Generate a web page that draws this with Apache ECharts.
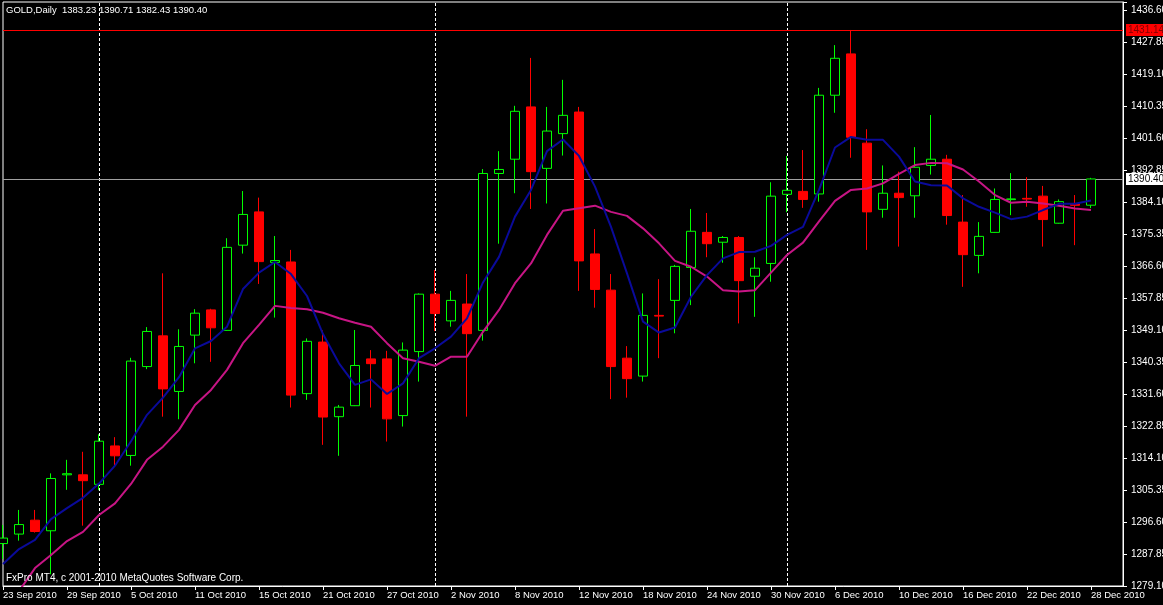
<!DOCTYPE html>
<html><head><meta charset="utf-8">
<script src="https://cdn.jsdelivr.net/npm/echarts@6/dist/echarts.min.js"></script>
<style>html,body{margin:0;padding:0;background:#000;}#c{width:1163px;height:605px;}</style>
</head><body><div id="c"></div>
<script>
const dates = ['23 Sep 2010','24 Sep 2010','27 Sep 2010','28 Sep 2010','29 Sep 2010','30 Sep 2010',
'1 Oct 2010','4 Oct 2010','5 Oct 2010','6 Oct 2010','7 Oct 2010','8 Oct 2010','11 Oct 2010','12 Oct 2010',
'13 Oct 2010','14 Oct 2010','15 Oct 2010','18 Oct 2010','19 Oct 2010','20 Oct 2010','21 Oct 2010','22 Oct 2010',
'25 Oct 2010','26 Oct 2010','27 Oct 2010','28 Oct 2010','29 Oct 2010',
'1 Nov 2010','2 Nov 2010','3 Nov 2010','4 Nov 2010','5 Nov 2010','8 Nov 2010','9 Nov 2010','10 Nov 2010',
'11 Nov 2010','12 Nov 2010','15 Nov 2010','16 Nov 2010','17 Nov 2010','18 Nov 2010','19 Nov 2010',
'22 Nov 2010','23 Nov 2010','24 Nov 2010','25 Nov 2010','26 Nov 2010','29 Nov 2010','30 Nov 2010',
'1 Dec 2010','2 Dec 2010','3 Dec 2010','6 Dec 2010','7 Dec 2010','8 Dec 2010','9 Dec 2010','10 Dec 2010',
'13 Dec 2010','14 Dec 2010','15 Dec 2010','16 Dec 2010','17 Dec 2010','20 Dec 2010','21 Dec 2010',
'22 Dec 2010','23 Dec 2010','24 Dec 2010','27 Dec 2010','28 Dec 2010'];
const shiftSlots = ['', ''];

const openP = [1290.7,1293.3,1297.1,1294.2,1309.5,1309.5,1306.9,1317.4,1314.8,1339.1,
 1347.5,1332.3,1347.7,1354.6,1349.0,1372.3,1381.4,1367.6,1367.7,1331.7,
 1345.8,1325.4,1328.4,1341.2,1341.2,1325.7,1343.2,1358.9,1351.6,1356.2,
 1349.0,1391.9,1395.8,1410.1,1393.3,1402.8,1408.7,1369.9,1360.0,1341.4,
 1336.5,1353.1,1357.2,1366.2,1375.8,1373.1,1374.4,1363.8,1367.3,1386.2,
 1387.0,1386.3,1413.3,1424.6,1400.2,1382.1,1386.5,1385.8,1394.1,1395.8,
 1378.6,1369.5,1375.8,1384.75,1385.1,1385.7,1378.3,1383.6,1383.23];
const highP = [1295.8,1299.9,1299.9,1309.9,1313.6,1315.8,1320.6,1319.8,1341.5,1349.9,
 1364.6,1349.3,1354.8,1354.9,1374.2,1387.1,1385.3,1374.8,1371.0,1346.8,
 1349.0,1328.6,1349.1,1343.6,1343.4,1345.7,1359.1,1365.5,1359.8,1364.4,
 1393.1,1398.0,1410.4,1423.5,1410.1,1417.5,1410.1,1376.7,1364.4,1344.7,
 1359.1,1363.0,1366.9,1382.2,1381.1,1374.8,1374.8,1369.0,1389.5,1396.7,
 1398.3,1415.3,1427.0,1431.14,1404.0,1394.1,1392.4,1399.1,1407.9,1397.0,
 1386.0,1378.6,1387.8,1392.0,1390.9,1388.5,1384.8,1386.0,1390.71];
const lowP = [1286.5,1291.5,1293.7,1282.3,1305.4,1295.6,1305.3,1312.0,1312.0,1338.4,
 1325.4,1324.7,1340.0,1340.4,1348.9,1370.0,1361.7,1352.5,1327.9,1330.0,
 1317.7,1314.7,1328.3,1327.9,1318.6,1322.7,1335.0,1348.8,1350.0,1325.4,
 1346.2,1372.7,1386.5,1382.2,1383.7,1396.8,1359.8,1355.2,1330.2,1330.6,
 1335.0,1341.4,1348.2,1355.9,1369.0,1367.5,1350.9,1352.7,1362.3,1381.3,
 1382.5,1384.2,1408.5,1396.2,1371.0,1379.8,1371.9,1379.8,1391.6,1377.9,
 1360.9,1364.6,1375.7,1380.5,1382.8,1371.9,1378.2,1372.3,1382.43];
const closeP = [1292.2,1295.9,1294.0,1308.5,1309.8,1307.9,1318.7,1314.7,1340.6,1348.7,
 1333.0,1344.6,1353.7,1349.7,1371.7,1380.7,1367.8,1368.1,1331.3,1346.0,
 1325.3,1328.0,1339.4,1339.9,1324.8,1343.6,1358.9,1353.6,1357.2,1348.1,
 1391.9,1393.0,1408.9,1392.4,1403.5,1407.8,1368.0,1360.2,1339.1,1335.8,
 1353.1,1352.9,1366.5,1376.1,1372.7,1374.4,1362.6,1366.0,1385.7,1387.3,
 1384.8,1413.3,1423.4,1401.8,1381.4,1386.5,1385.3,1393.6,1395.8,1380.4,
 1369.7,1374.7,1384.8,1384.95,1384.9,1379.3,1384.2,1383.2,1390.40];

const maFast = [1285.1,1289.2,1291.7,1297.4,1300.4,1303.2,1307.1,1312.0,1318.7,1325.9,
 1330.6,1336.2,1344.1,1346.1,1350.0,1360.3,1364.8,1367.7,1364.4,1358.4,
 1348.0,1340.0,1334.1,1335.6,1331.6,1334.5,1341.4,1344.1,1347.3,1352.3,
 1362.1,1369.1,1380.1,1387.4,1398.0,1401.2,1396.7,1388.3,1377.3,1364.6,
 1351.4,1348.4,1349.8,1358.2,1364.1,1368.7,1370.4,1370.5,1372.1,1375.1,
 1377.3,1387.4,1399.0,1401.9,1401.1,1401.1,1396.5,1389.7,1388.7,1388.6,
 1385.1,1382.8,1381.2,1379.4,1380.1,1381.9,1383.6,1383.6,1384.5];
const maSlow = [1272.0,1277.7,1284.0,1287.6,1291.4,1293.9,1298.5,1301.7,1307.0,1313.6,
 1317.2,1321.8,1328.6,1332.7,1338.2,1345.5,1350.5,1355.7,1355.1,1354.8,
 1353.8,1352.3,1351.1,1350.0,1345.5,1341.4,1340.4,1339.3,1341.8,1341.8,
 1348.6,1354.6,1361.9,1367.3,1375.1,1381.7,1382.4,1383.1,1381.4,1380.3,
 1376.9,1372.8,1368.0,1366.4,1363.7,1360.0,1359.6,1360.0,1364.8,1369.6,
 1373.0,1378.8,1384.4,1387.4,1387.8,1389.2,1391.8,1394.2,1394.8,1394.7,
 1393.0,1389.7,1386.0,1383.9,1384.2,1383.7,1383.1,1382.3,1381.9];

const yTickMin = 1279.10;
const yTickStep = 8.75;
const yMax = 1438.79;
const monthSeparators = ['1 Oct 2010','1 Nov 2010','1 Dec 2010'];
const highLine = 1431.14;
const bidLine = 1390.40;
const symbolName = 'GOLD,Daily';
const footer = 'FxPro MT4, c 2001-2010 MetaQuotes Software Corp.';

const n = dates.length - 1;
const headerText = symbolName + '  ' + [openP[n], highP[n], lowP[n], closeP[n]].map(v => v.toFixed(2)).join(' ');
const candles = dates.map((d, i) => [openP[i], closeP[i], lowP[i], highP[i]]);
const font = 'Liberation Sans';

const chart = echarts.init(document.getElementById('c'), null, {renderer: 'canvas'});
chart.setOption({
  animation: false,
  backgroundColor: '#000',
  title: [
    {text: headerText, left: 6, top: 5, padding: 0, textStyle: {color: '#fff', fontSize: 9.5, fontWeight: 'normal', fontFamily: font}},
    {text: footer, left: 6, top: 573, padding: 0, textStyle: {color: '#fff', fontSize: 10, fontWeight: 'normal', fontFamily: font}}
  ],
  grid: {left: 3, right: 40, top: 2, bottom: 19, outerBoundsMode: 'none', containLabel: false,
         show: true, borderColor: '#fff', borderWidth: 1, backgroundColor: '#000'},
  xAxis: {
    type: 'category', data: dates.concat(shiftSlots), boundaryGap: false,
    axisLine: {lineStyle: {color: '#fff', width: 1}},
    axisTick: {show: true, interval: 3, length: 4, lineStyle: {color: '#fff'}},
    axisLabel: {interval: 3, align: 'left', margin: 4, color: '#fff', fontSize: 9.5, fontFamily: font},
    splitLine: {show: false}
  },
  yAxis: {
    type: 'value', position: 'right', min: yTickMin, max: yMax, interval: yTickStep, scale: true,
    axisLine: {show: true, lineStyle: {color: '#fff', width: 1}},
    axisTick: {show: true, length: 4, lineStyle: {color: '#fff'}},
    axisLabel: {
      margin: 8, color: '#fff', fontSize: 10, fontFamily: font,
      formatter: v => {
        const k = (v - yTickMin) / yTickStep;
        return Math.abs(k - Math.round(k)) < 0.01 ? v.toFixed(2) : '';
      }
    },
    splitLine: {show: false}
  },
  series: [
    {
      type: 'candlestick', data: candles, barWidth: 10, z: 2,
      itemStyle: {color: '#000', color0: '#ff0000', borderColor: '#00ff00', borderColor0: '#ff0000', borderWidth: 1},
      markLine: {
        z: 1, silent: true, symbol: ['none', 'none'], animation: false,
        data: [
          ...monthSeparators.map(d => ({xAxis: d, lineStyle: {color: '#fff', type: [3, 2], width: 1}, label: {show: false}})),
          {yAxis: highLine, lineStyle: {color: '#ff0000', type: 'solid', width: 1},
           label: {show: true, position: 'end', distance: 3, formatter: highLine.toFixed(2), backgroundColor: '#ff0000', color: '#800000', fontSize: 10, fontFamily: font, padding: [1, 3, 1, 2]}},
          {yAxis: bidLine, lineStyle: {color: '#a0a0a0', type: 'solid', width: 1},
           label: {show: true, position: 'end', distance: 3, formatter: bidLine.toFixed(2), backgroundColor: '#fff', color: '#000', fontSize: 10, fontFamily: font, padding: [1, 3, 1, 2]}}
        ]
      }
    },
    {type: 'line', data: maSlow, z: 3, symbol: 'none', lineStyle: {color: '#c71585', width: 2}},
    {type: 'line', data: maFast, z: 4, symbol: 'none', lineStyle: {color: '#0a0a9a', width: 2}}
  ]
});
</script></body></html>
